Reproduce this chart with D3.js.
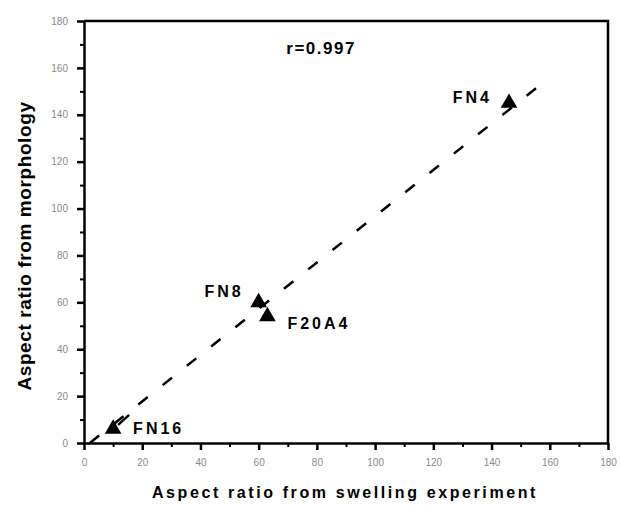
<!DOCTYPE html>
<html>
<head>
<meta charset="utf-8">
<script src="https://cdn.jsdelivr.net/npm/d3@7"></script>
<style>
  body { margin: 0; background: #fff; }
  text { font-family: "Liberation Sans", Arial, sans-serif; }
</style>
</head>
<body>
<script>
        // data
        var sampleNames = ["FN16", "FN8", "F20A4", "FN4"]
        var swellingRatio = [10, 60, 63, 146]      // x
        var morphologyRatio = [6, 60, 54, 145]     // y
        var fitX = [2, 157]
        var fitY = [0, 153]
        var tickValues = [0, 20, 40, 60, 80, 100, 120, 140, 160, 180]
        var minorTicks = [10, 30, 50, 70, 90, 110, 130, 150, 170]

        var width = 620
        var height = 506
        var margin = {left: 84, right: 12, top: 21, bottom: 63}

        var svg = d3.select("body")
            .append("svg")
            .attr("width", width)
            .attr("height", height);

        var x = d3.scaleLinear().domain([0, 180]).range([margin.left, width - margin.right])
        var y = d3.scaleLinear().domain([0, 180]).range([height - margin.bottom, margin.top])

        // frame (top + right, no ticks)
        svg.append("path")
            .attr("d", "M" + x(0) + "," + y(180) + "H" + x(180) + "V" + y(0))
            .attr("fill", "none")
            .attr("stroke", "black")
            .attr("stroke-width", 2.5)

        //minor ticks first, then the main axes
        svg.append("g")
            .attr("transform", "translate(0," + y(0) + ")")
            .call(d3.axisBottom(x).tickValues(minorTicks).tickSize(4).tickFormat(""))
            .call(g => g.select(".domain").remove())
            .selectAll("line").attr("stroke-width", 2)
        svg.append("g")
            .attr("transform", "translate(" + x(0) + ",0)")
            .call(d3.axisLeft(y).tickValues(minorTicks).tickSize(4).tickFormat(""))
            .call(g => g.select(".domain").remove())
            .selectAll("line").attr("stroke-width", 2)

        var xAxis = svg.append("g")
            .attr("transform", "translate(0," + y(0) + ")")
            .call(d3.axisBottom(x).tickValues(tickValues).tickSize(7).tickSizeOuter(0).tickPadding(9))
        var yAxis = svg.append("g")
            .attr("transform", "translate(" + x(0) + ",0)")
            .call(d3.axisLeft(y).tickValues(tickValues).tickSize(7).tickSizeOuter(0).tickPadding(9))

        ;[xAxis, yAxis].forEach(function(a){
            a.select(".domain").attr("stroke-width", 2.5)
            a.selectAll("line").attr("stroke-width", 2.5)
            a.selectAll("text")
                .attr("font-size", 10)
                .attr("fill", "#8a8a8a")
                .style("font-family", "'Liberation Sans', Arial, sans-serif")
        })

        // dashed fit line
        var line = d3.line().x(d => x(d[0])).y(d => y(d[1]))
        svg.append("path")
            .attr("d", line(d3.zip(fitX, fitY)))
            .attr("fill", "none")
            .attr("stroke", "black")
            .attr("stroke-width", 2.5)
            .attr("stroke-dasharray", "12,19")

        // triangles
        var pts = sampleNames.map(function(n, i){ return {name: n, x: swellingRatio[i], y: morphologyRatio[i]} })
        svg.selectAll(".pt")
            .data(pts)
            .enter()
            .append("path")
            .attr("class", "pt")
            .attr("d", d3.symbol(d3.symbolTriangle, 120))
            .attr("transform", d => "translate(" + x(d.x) + "," + y(d.y) + ")")
            .attr("fill", "black")

        // labels, offsets relative to the points
        var labelOffset = {
            "FN16": [20, 5, "start"],
            "FN8": [-15, -5, "end"],
            "F20A4": [20, 13, "start"],
            "FN4": [-17, 0, "end"]
        }
        svg.selectAll(".lbl")
            .data(pts)
            .enter()
            .append("text")
            .attr("class", "lbl")
            .attr("x", d => x(d.x) + labelOffset[d.name][0])
            .attr("y", d => y(d.y) + labelOffset[d.name][1])
            .attr("text-anchor", d => labelOffset[d.name][2])
            .attr("font-size", 16)
            .attr("font-weight", "bold")
            .attr("letter-spacing", 3)
            .text(d => d.name)

        // little pointer at FN16
        var fn16 = pts[0]
        svg.append("line")
            .attr("x1", x(fn16.x) + 5).attr("y1", y(fn16.y) - 4)
            .attr("x2", x(fn16.x) + 16).attr("y2", y(fn16.y) - 14)
            .attr("stroke", "black")
            .attr("stroke-width", 2.5)

        svg.append("text")
            .attr("x", x(69.5))
            .attr("y", y(166))
            .attr("font-size", 17)
            .attr("font-weight", "bold")
            .attr("letter-spacing", 1.5)
            .text("r=0.997")

        // axis titles
        svg.append("text")
            .attr("x", 345)
            .attr("y", 498)
            .attr("text-anchor", "middle")
            .attr("font-size", 16)
            .attr("font-weight", "bold")
            .attr("letter-spacing", 2.6)
            .text("Aspect ratio from swelling experiment")

        svg.append("text")
            .attr("transform", "translate(31,246) rotate(-90)")
            .attr("text-anchor", "middle")
            .attr("font-size", 19)
            .attr("font-weight", "bold")
            .attr("letter-spacing", 0.6)
            .text("Aspect ratio from morphology")
</script>
</body>
</html>
